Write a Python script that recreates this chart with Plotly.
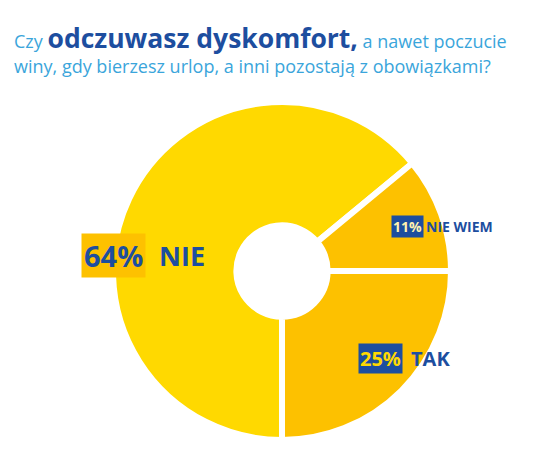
import plotly.graph_objects as go

# ── Data ──────────────────────────────────────────────────────────────────────
labels = ["NIE", "NIE WIEM", "TAK"]
values = [64, 11, 25]
slice_colors = ["#FFD900", "#FDC100", "#FDC100"]

W, H = 534, 462
BLUE = "#1D4E9F"
LIGHT_BLUE = "#3AA5DB"
FONT = "Open Sans"


def px(x, y):
    """pixel coords (from top-left) -> paper coords"""
    return x / W, 1 - y / H


fig = go.Figure()

# ── Donut ─────────────────────────────────────────────────────────────────────
cx, cy, r = 282, 271, 169
x0, y0 = px(cx - r, cy + r)
x1, y1 = px(cx + r, cy - r)
fig.add_trace(go.Pie(
    labels=labels, values=values,
    marker=dict(colors=slice_colors, line=dict(color="white", width=6)),
    hole=0.27, sort=False, direction="clockwise", rotation=180,
    textinfo="none", hoverinfo="label+percent", showlegend=False,
    domain=dict(x=[x0, x1], y=[y0, y1]),
))

# ── Title ─────────────────────────────────────────────────────────────────────
title_1 = ("Czy <span style='font-size:26.5px;color:%s'><b>odczuwasz dyskomfort,</b></span>"
           " a nawet poczucie" % BLUE)
title_2 = "winy, gdy bierzesz urlop, a inni pozostają z obowiązkami?"

for txt, ty in [(title_1, 38), (title_2, 66)]:
    ax, ay = px(12, ty)
    fig.add_annotation(x=ax, y=ay, xref="paper", yref="paper", text=txt,
                       showarrow=False, xanchor="left", yanchor="middle",
                       font=dict(family=FONT, size=18, color=LIGHT_BLUE))

# ── Slice labels ──────────────────────────────────────────────────────────────
pct_boxes = [
    # text, centre x, centre y, size, pad, text colour, box colour
    ("64%", 113, 255, 29, 2, BLUE, "#FDC100"),
    ("11%", 407, 226, 14, 1, "#FFF3B0", BLUE),
    ("25%", 380, 358, 20, 1, "#FFD900", BLUE),
]
for txt, bx, by, sz, pad, fc, bg in pct_boxes:
    ax, ay = px(bx, by)
    fig.add_annotation(x=ax, y=ay, xref="paper", yref="paper",
                       text="<b>%s</b>" % txt, showarrow=False,
                       xanchor="center", yanchor="middle",
                       font=dict(family=FONT, size=sz, color=fc),
                       bgcolor=bg, borderpad=pad)

names = [("NIE", 157, 255, 27), ("NIE WIEM", 424, 226, 14), ("TAK", 409, 358, 20)]
for txt, nx, ny, sz in names:
    ax, ay = px(nx, ny)
    fig.add_annotation(x=ax, y=ay, xref="paper", yref="paper",
                       text="<b>%s</b>" % txt, showarrow=False,
                       xanchor="left", yanchor="middle",
                       font=dict(family=FONT, size=sz, color=BLUE))

fig.update_layout(
    width=W, height=H,
    margin=dict(l=0, r=0, t=0, b=0),
    paper_bgcolor="white", plot_bgcolor="white",
)

# page body has an 8px default margin; drop it so the figure sits at 0,0
fig.write_html("out.html", config={"displayModeBar": False},
               post_script="document.body.style.margin='0';")
